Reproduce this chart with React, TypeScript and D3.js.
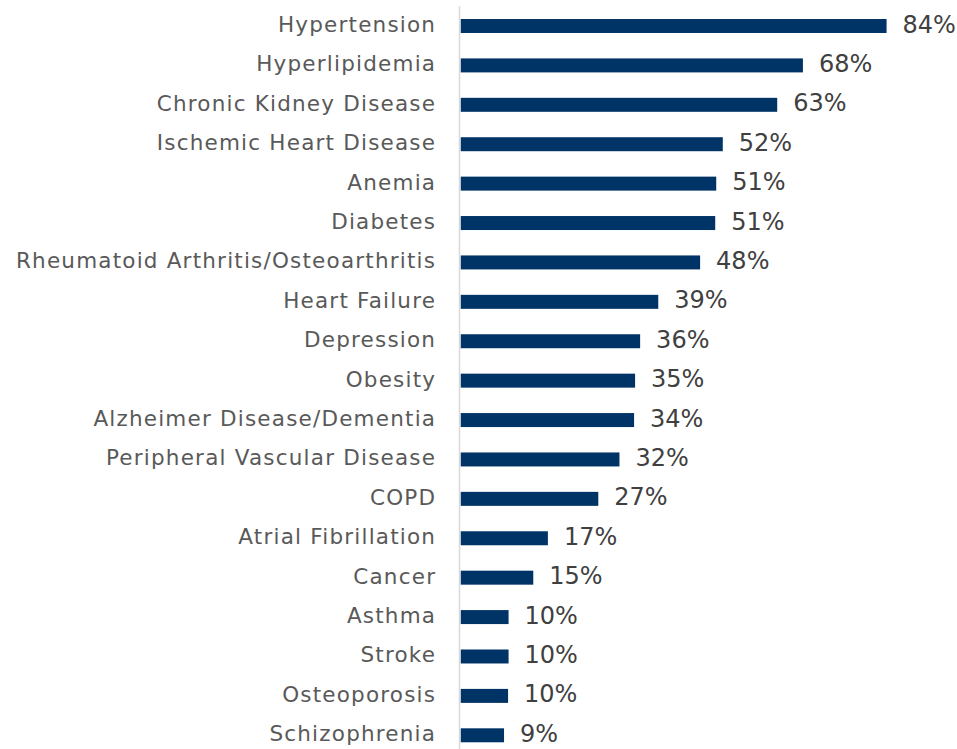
import React from "react";
import * as d3 from "d3";

const categories = [
  "Hypertension",
  "Hyperlipidemia",
  "Chronic Kidney Disease",
  "Ischemic Heart Disease",
  "Anemia",
  "Diabetes",
  "Rheumatoid Arthritis/Osteoarthritis",
  "Heart Failure",
  "Depression",
  "Obesity",
  "Alzheimer Disease/Dementia",
  "Peripheral Vascular Disease",
  "COPD",
  "Atrial Fibrillation",
  "Cancer",
  "Asthma",
  "Stroke",
  "Osteoporosis",
  "Schizophrenia",
];

const values = [
  84.5, 67.9, 62.8, 52.0, 50.7, 50.5, 47.5, 39.2, 35.6, 34.6, 34.4, 31.5, 27.3,
  17.3, 14.4, 9.5, 9.5, 9.4, 8.6,
];

const valueLabels = [
  "84%", "68%", "63%", "52%", "51%", "51%", "48%", "39%", "36%", "35%", "34%",
  "32%", "27%", "17%", "15%", "10%", "10%", "10%", "9%",
];

const W = 957;
const H = 749;

export default function App() {
  const x = d3.scaleLinear().domain([0, 100]).range([460.7, 460.7 + 504]);
  const y = d3
    .scaleBand<string>()
    .domain(categories)
    .range([6.3, 755])
    .paddingInner(0.645)
    .paddingOuter(0.3225);
  const bw = y.bandwidth();
  const ls = 1.2;

  return (
    <svg
      width={W}
      height={H}
      style={{ position: "absolute", left: 0, top: 0, display: "block" }}
      fontFamily="'DejaVu Sans', sans-serif"
    >
      <rect x={0} y={0} width={W} height={H} fill="#ffffff" />
      {categories.map((c, i) => {
        const yc = (y(c) as number) + bw / 2;
        return (
          <g key={c}>
            <rect
              x={x(0)}
              y={y(c)}
              width={x(values[i]) - x(0)}
              height={bw}
              fill="#003366"
            />
            <text
              x={435 + ls}
              y={yc + 6}
              textAnchor="end"
              fontSize={21.5}
              letterSpacing={ls}
              fill="#595959"
            >
              {c}
            </text>
            <text
              x={x(values[i]) + 16}
              y={yc + 6.5}
              fontSize={24}
              fill="#404040"
            >
              {valueLabels[i]}
            </text>
          </g>
        );
      })}
      <line
        x1={459.5}
        x2={459.5}
        y1={6.3}
        y2={755}
        stroke="#d9d9d9"
        strokeWidth={1.5}
      />
    </svg>
  );
}
